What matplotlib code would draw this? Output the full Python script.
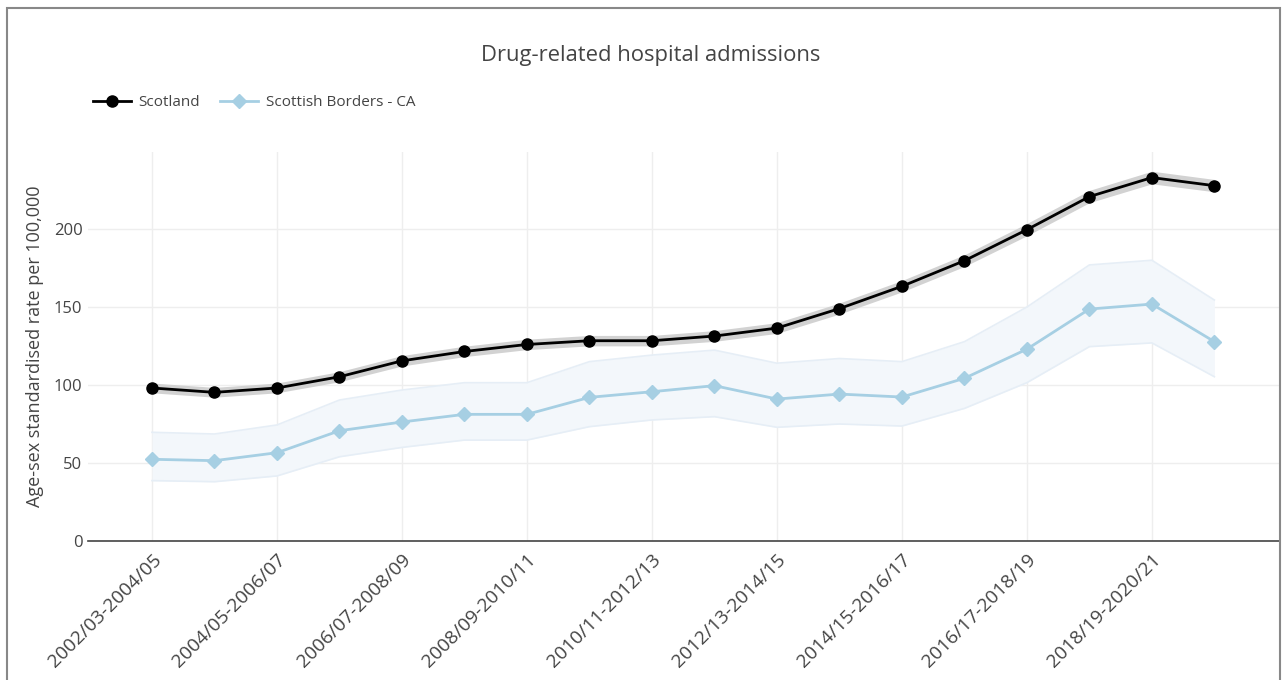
import matplotlib.pyplot as plt
from matplotlib.patches import Rectangle
import numpy as np

plt.rcParams['font.family'] = ['Open Sans', 'DejaVu Sans']

# Periods (3-year rolling)
periods = ['2002/03-2004/05', '2003/04-2005/06', '2004/05-2006/07', '2005/06-2007/08',
           '2006/07-2008/09', '2007/08-2009/10', '2008/09-2010/11', '2009/10-2011/12',
           '2010/11-2012/13', '2011/12-2013/14', '2012/13-2014/15', '2013/14-2015/16',
           '2014/15-2016/17', '2015/16-2017/18', '2016/17-2018/19', '2017/18-2019/20',
           '2018/19-2020/21', '2019/20-2021/22']

# Scotland rate and confidence interval
scotland = [98.1, 95.3, 98.1, 105.3, 115.5, 121.5, 126.0, 128.4, 128.4, 131.4,
            136.5, 149.0, 163.3, 179.7, 199.6, 220.8, 233.0, 227.8]
scotland_lo = [95.0, 92.2, 95.0, 102.1, 112.2, 118.2, 122.7, 125.1, 125.1, 128.0,
               133.1, 145.5, 159.7, 176.0, 195.7, 216.9, 229.0, 223.9]
scotland_hi = [101.3, 98.5, 101.3, 108.6, 118.9, 124.9, 129.4, 131.8, 131.8, 134.9,
               140.0, 152.6, 167.0, 183.5, 203.6, 224.8, 237.1, 231.8]

# Scottish Borders rate and confidence interval
borders = [52.4, 51.5, 56.6, 70.7, 76.3, 81.2, 81.2, 92.1, 95.7, 99.6,
           91.0, 94.2, 92.3, 104.3, 123.0, 148.7, 151.9, 127.8]
borders_lo = [38.7, 38.0, 41.7, 54.0, 60.0, 64.7, 64.7, 73.3, 77.6, 79.7,
              72.9, 75.0, 73.7, 85.0, 101.5, 124.6, 127.0, 105.3]
borders_hi = [69.7, 68.6, 74.4, 90.4, 96.8, 101.5, 101.5, 115.0, 119.2, 122.4,
              114.0, 117.0, 115.0, 127.8, 150.0, 177.0, 180.0, 154.5]

x = np.arange(len(periods))

fig = plt.figure(figsize=(12.83, 6.80), dpi=100)
ax = fig.add_axes([88 / 1283, 1 - 541 / 680, 1192 / 1283, 389 / 680])

# confidence bands
ax.fill_between(x, scotland_lo, scotland_hi, color='#d2d2d2', lw=0, zorder=2)
ax.fill_between(x, borders_lo, borders_hi, color='#f3f7fb', lw=0, zorder=1)
ax.plot(x, borders_lo, color='#e6eef6', lw=1.2, zorder=1)
ax.plot(x, borders_hi, color='#e6eef6', lw=1.2, zorder=1)

# lines
ax.plot(x, scotland, color='black', lw=2, marker='o', ms=8, zorder=4, label='Scotland')
ax.plot(x, borders, color='#a6cfe3', lw=2, marker='D', ms=7, mec='#a6cfe3',
        zorder=3, label='Scottish Borders - CA')

ax.set_xlim(-1.024, 18.05)
ax.set_ylim(0, 249.4)
ax.set_xticks(x[::2])
ax.set_xticklabels(periods[::2], rotation=45, ha='right', rotation_mode='anchor',
                   fontsize=13.8, color='#444444')
ax.set_yticks([0, 50, 100, 150, 200])
ax.tick_params(axis='y', labelsize=12, labelcolor='#444444', length=0, pad=4)
ax.tick_params(axis='x', length=0, pad=7)
ax.grid(True, color='#eeeeee', lw=1)
ax.set_axisbelow(True)
for s in ['top', 'right', 'left']:
    ax.spines[s].set_visible(False)
ax.spines['bottom'].set_color('#444444')
ax.spines['bottom'].set_linewidth(1.2)

ax.set_ylabel('Age-sex standardised rate per 100,000', fontsize=13, color='#444444',
              labelpad=7)

fig.text(651 / 1283, 1 - 55 / 680, 'Drug-related hospital admissions', ha='center',
         va='center', fontsize=15.8, color='#444444')

fig.legend(loc='center left', bbox_to_anchor=(79 / 1283, 1 - 103 / 680), ncol=2,
           frameon=False, fontsize=11, handlelength=2.5, columnspacing=1.3,
           handletextpad=0.5, labelcolor='#444444')

# outer frame
fig.patches.append(Rectangle((7 / 1283, -0.1), 1273 / 1283, 1.1 - 8 / 680,
                             transform=fig.transFigure, fill=False,
                             ec='#888888', lw=1.5))

fig.savefig('out.png', dpi=100)
